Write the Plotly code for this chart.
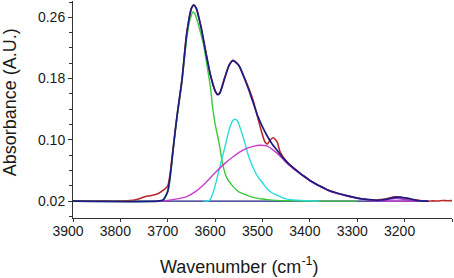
import plotly.graph_objects as go

# ---------------- data ----------------
measured_wn = [3900, 3890, 3880, 3870, 3860, 3850, 3840, 3830, 3820, 3810, 3800, 3790,
               3780, 3770, 3760, 3750, 3740, 3730, 3720, 3710, 3700, 3695, 3690, 3680,
               3670, 3660, 3650, 3645, 3640, 3630, 3620, 3610, 3600, 3595, 3590, 3580,
               3570, 3562, 3550, 3540, 3530, 3520, 3510, 3502, 3495, 3490, 3484, 3477,
               3469, 3463, 3450, 3440, 3430, 3420, 3410, 3400, 3390, 3380, 3370, 3360,
               3350, 3340, 3330, 3320, 3310, 3300, 3290, 3280, 3270, 3260, 3250, 3240,
               3230, 3220, 3210, 3200, 3190, 3180, 3170, 3160, 3150, 3140, 3130, 3120,
               3110, 3100]
measured_abs = [0.0200, 0.0202, 0.0199, 0.0201, 0.0198, 0.0201, 0.0200, 0.0202, 0.0199, 0.0198,
                0.0201, 0.0203, 0.0208, 0.0215, 0.0232, 0.0255, 0.0268, 0.0280, 0.0300, 0.0340,
                0.0400, 0.0560, 0.0820, 0.1330, 0.1790, 0.2390, 0.2720, 0.2765, 0.2725, 0.2480,
                0.2160, 0.1850, 0.1640, 0.1600, 0.1620, 0.1810, 0.1985, 0.2040, 0.1975, 0.1840,
                0.1690, 0.1520, 0.1290, 0.1106, 0.0975, 0.0945, 0.0997, 0.1027, 0.0975, 0.0844,
                0.0725, 0.0662, 0.0610, 0.0560, 0.0515, 0.0472, 0.0435, 0.0402, 0.0370, 0.0342,
                0.0320, 0.0300, 0.0283, 0.0268, 0.0252, 0.0240, 0.0232, 0.0222, 0.0218, 0.0215,
                0.0220, 0.0228, 0.0245, 0.0256, 0.0252, 0.0240, 0.0232, 0.0218, 0.0210, 0.0202,
                0.0199, 0.0204, 0.0201, 0.0208, 0.0205, 0.0207]

fit_wn = [3900, 3720, 3710, 3700, 3695, 3690, 3685, 3680, 3670, 3660, 3650, 3645, 3640,
          3630, 3620, 3610, 3600, 3595, 3590, 3580, 3570, 3562, 3550, 3540, 3530, 3520,
          3510, 3500, 3490, 3480, 3470, 3460, 3450, 3440, 3430, 3420, 3410, 3400, 3390,
          3380, 3370, 3360, 3350, 3340, 3320, 3300, 3280, 3260, 3250, 3240, 3230, 3220,
          3210, 3200, 3190, 3180, 3170, 3160, 3150]
fit_abs = [0.020, 0.020, 0.0215, 0.033, 0.052, 0.080, 0.108, 0.133, 0.178, 0.238, 0.2715,
           0.276, 0.272, 0.248, 0.215, 0.185, 0.164, 0.159, 0.161, 0.180, 0.198, 0.2035,
           0.197, 0.183, 0.167, 0.149, 0.131, 0.117, 0.105, 0.095, 0.087, 0.079, 0.072,
           0.066, 0.061, 0.056, 0.0515, 0.047, 0.0435, 0.040, 0.037, 0.034, 0.032, 0.030,
           0.0268, 0.024, 0.0222, 0.0212, 0.0215, 0.0222, 0.0238, 0.0250, 0.0252, 0.0244,
           0.0232, 0.0218, 0.0205, 0.0200, 0.0200]

peak1_wn = [3900, 3720, 3710, 3700, 3695, 3690, 3685, 3680, 3670, 3660, 3655, 3650, 3647,
            3643, 3636, 3630, 3625, 3620, 3610, 3605, 3600, 3593, 3590, 3583, 3575, 3562,
            3550, 3534, 3520, 3500, 3490, 3470, 3440, 3400, 3300]
peak1_abs = [0.020, 0.020, 0.021, 0.032, 0.050, 0.078, 0.106, 0.131, 0.176, 0.232, 0.252,
             0.263, 0.267, 0.265, 0.252, 0.238, 0.226, 0.208, 0.169, 0.141, 0.121, 0.100,
             0.090, 0.065, 0.050, 0.039, 0.032, 0.028, 0.025, 0.0228, 0.022, 0.021, 0.0205,
             0.020, 0.020]

peak2_wn = [3625, 3612, 3605, 3600, 3590, 3580, 3570, 3563, 3558, 3553, 3548, 3540, 3530,
            3520, 3510, 3500, 3490, 3480, 3470, 3460, 3450, 3440, 3420, 3400, 3380]
peak2_abs = [0.020, 0.021, 0.030, 0.040, 0.065, 0.089, 0.114, 0.125, 0.127, 0.125, 0.117,
             0.102, 0.080, 0.064, 0.052, 0.044, 0.036, 0.031, 0.028, 0.025, 0.023, 0.022,
             0.021, 0.0203, 0.020]

peak3_wn = [3730, 3710, 3700, 3680, 3660, 3640, 3620, 3600, 3580, 3560, 3540, 3520, 3505,
            3490, 3480, 3470, 3460, 3450, 3440, 3430, 3420, 3400, 3380, 3360, 3340, 3320,
            3300, 3280, 3260, 3240, 3200, 3160]
peak3_abs = [0.020, 0.0205, 0.021, 0.023, 0.026, 0.033, 0.044, 0.057, 0.069, 0.079, 0.087,
             0.0915, 0.093, 0.0918, 0.088, 0.083, 0.077, 0.0705, 0.065, 0.060, 0.0555,
             0.0465, 0.0395, 0.0335, 0.0295, 0.0265, 0.0237, 0.022, 0.0208, 0.0202, 0.020,
             0.020]

peak4_wn = [3270, 3250, 3240, 3230, 3220, 3210, 3200, 3190, 3180, 3160]
peak4_abs = [0.020, 0.0205, 0.0215, 0.0228, 0.0236, 0.0233, 0.0222, 0.021, 0.0203, 0.020]

baseline_wn = [3900, 3150]
baseline_abs = [0.020, 0.020]

x_tickvals = [3900, 3800, 3700, 3600, 3500, 3400, 3300, 3200, 3100]
x_ticktext = ["3900", "3800", "3700", "3600", "3500", "3400", "3300", "3200", ""]
y_tickvals = [0.02, 0.10, 0.18, 0.26]
y_ticktext = ["0.02", "0.10", "0.18", "0.26"]
y_minorvals = [0.00, 0.04, 0.06, 0.08, 0.12, 0.14, 0.16, 0.20, 0.22, 0.24, 0.28]

# ---------------- styling ----------------
NAVY = "#1c1c84"
RED = "#b8282a"
GREEN = "#3cc83c"
CYAN = "#2adcdc"
MAGENTA = "#cc3cc8"
PURPLE = "#9a3cc8"
FONT = "Liberation Sans, Arial, sans-serif"

fig = go.Figure()
fig.add_trace(go.Scatter(x=baseline_wn, y=baseline_abs, mode="lines",
                         line=dict(color=NAVY, width=1.4)))
fig.add_trace(go.Scatter(x=measured_wn, y=measured_abs, mode="lines",
                         line=dict(color=RED, width=1.6, shape="spline", smoothing=0.6)))
fig.add_trace(go.Scatter(x=peak1_wn, y=peak1_abs, mode="lines",
                         line=dict(color=GREEN, width=1.4, shape="spline", smoothing=0.8)))
fig.add_trace(go.Scatter(x=peak2_wn, y=peak2_abs, mode="lines",
                         line=dict(color=CYAN, width=1.4, shape="spline", smoothing=0.8)))
fig.add_trace(go.Scatter(x=peak3_wn, y=peak3_abs, mode="lines",
                         line=dict(color=MAGENTA, width=1.4, shape="spline", smoothing=0.8)))
fig.add_trace(go.Scatter(x=peak4_wn, y=peak4_abs, mode="lines",
                         line=dict(color=PURPLE, width=1.6, shape="spline", smoothing=0.8)))
fig.add_trace(go.Scatter(x=fit_wn, y=fit_abs, mode="lines",
                         line=dict(color=NAVY, width=1.7, shape="spline", smoothing=0.6)))

fig.update_layout(
    width=454, height=278,
    margin=dict(l=73, r=2, t=1, b=60),
    paper_bgcolor="white", plot_bgcolor="white",
    showlegend=False,
    font=dict(family=FONT, color="#1a1a1a", size=14),
)
fig.update_xaxes(
    range=[3900, 3100], showgrid=False, zeroline=False, automargin=False,
    showline=True, linecolor="#333", linewidth=1,
    tickmode="array", tickvals=x_tickvals, ticktext=x_ticktext,
    ticks="outside", ticklen=3, tickcolor="#333", tickwidth=1,
    tickfont=dict(family=FONT, size=14, color="#1a1a1a"),
    ticklabelshift=5, ticklabelstandoff=-3,
)
fig.update_yaxes(
    range=[-0.002, 0.2813], showgrid=False, zeroline=False, automargin=False,
    showline=True, linecolor="#333", linewidth=1,
    tickmode="array", tickvals=y_tickvals, ticktext=y_ticktext,
    ticks="outside", ticklen=4, tickcolor="#333", tickwidth=1,
    tickfont=dict(family=FONT, size=14, color="#1a1a1a"),
    minor=dict(tickmode="array", tickvals=y_minorvals, ticks="outside",
               ticklen=3, tickcolor="#333", tickwidth=1, showgrid=False),
)
fig.add_annotation(text="Absorbance (A.U.)", textangle=-90, showarrow=False,
                   xref="paper", yref="paper", x=-0.166, y=0.534,
                   xanchor="center", yanchor="middle",
                   font=dict(family=FONT, size=18, color="#1a1a1a"))
fig.add_annotation(text="Wavenumber (cm<sup>-1</sup>)", showarrow=False,
                   xref="paper", yref="paper", x=0.44, y=-0.218,
                   xanchor="center", yanchor="middle",
                   font=dict(family=FONT, size=18, color="#1a1a1a"))

fig.write_html("out.html",
               config={"displayModeBar": False},
               post_script="document.body.style.margin='0';document.body.style.overflow='hidden';")
